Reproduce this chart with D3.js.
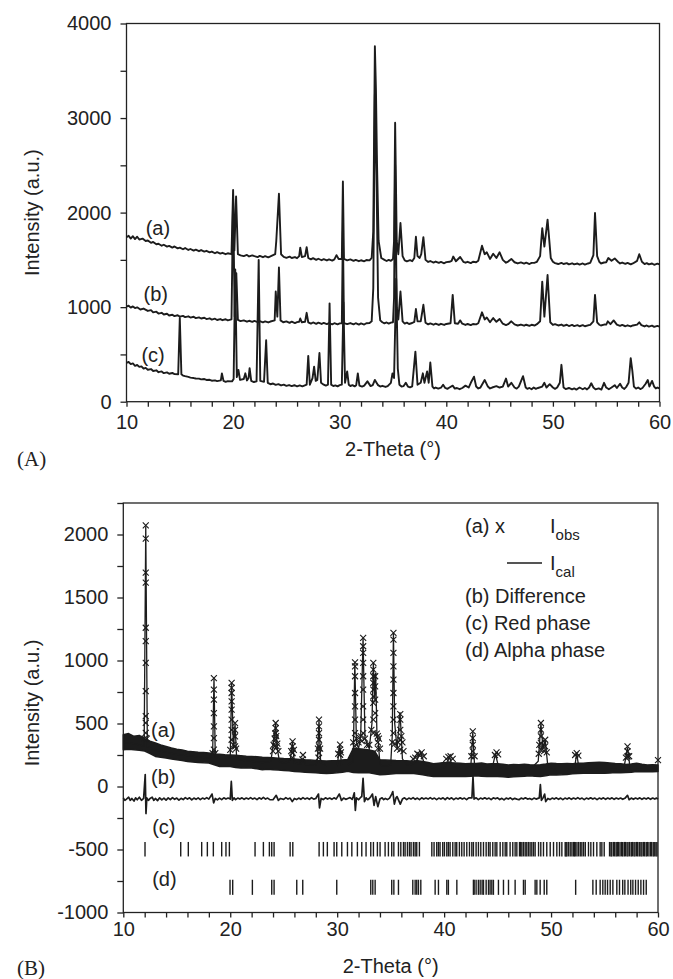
<!DOCTYPE html>
<html><head><meta charset="utf-8">
<script src="https://cdn.jsdelivr.net/npm/d3@7/dist/d3.min.js"></script>
<style>
html,body{margin:0;padding:0;background:#fff;}
svg{display:block;}
.tk text{font-family:"Liberation Sans",Arial,Helvetica,sans-serif;font-size:20px;fill:#222;}
.tk path,.tk line{stroke:#222;stroke-width:1.3;}
.lbl{font-family:"Liberation Sans",Arial,Helvetica,sans-serif;font-size:20px;fill:#222;}
.pan{font-family:"Liberation Serif","Times New Roman",serif;font-size:21px;fill:#222;}
</style></head><body>
<script>
// ---------------- Panel A data: [2-theta, intensity] ----------------
const curveA_a = [[10,1740],[10.2,1755],[10.4,1725],[10.6,1750],[10.8,1720],[11,1745],[11.2,1715],[11.5,1725],[11.8,1700],[12,1705],[12.3,1680],[12.5,1690],[12.8,1665],[13,1670],[13.3,1650],[13.5,1660],[13.8,1640],[14,1648],[14.3,1630],[14.5,1642],[14.8,1622],[15,1630],[15.3,1612],[15.5,1625],[15.8,1605],[16,1615],[16.3,1598],[16.5,1608],[16.8,1592],[17,1604],[17.3,1588],[17.5,1596],[17.8,1580],[18,1588],[18.3,1570],[18.5,1582],[18.8,1566],[19,1575],[19.3,1560],[19.5,1570],[19.85,1560],[20.0,2240],[20.12,1600],[20.28,2170],[20.45,1560],[20.7,1548],[21,1540],[21.3,1552],[21.5,1536],[21.8,1548],[22,1540],[22.3,1530],[22.5,1542],[22.8,1528],[23,1540],[23.3,1526],[23.5,1536],[23.95,1560],[24.05,1700],[24.3,2200],[24.5,1560],[24.75,1532],[25,1522],[25.3,1534],[25.5,1520],[25.8,1530],[26,1518],[26.2,1540],[26.3,1630],[26.45,1530],[26.75,1540],[26.9,1635],[27.05,1520],[27.3,1505],[27.5,1518],[27.8,1500],[28,1512],[28.3,1496],[28.5,1508],[28.8,1494],[29,1505],[29.3,1492],[29.5,1505],[29.7,1550],[29.9,1510],[30.2,1510],[30.3,2330],[30.4,1510],[30.7,1495],[31,1505],[31.3,1490],[31.5,1500],[31.8,1486],[32,1496],[32.3,1485],[32.5,1498],[32.8,1495],[33,1520],[33.15,1800],[33.3,3760],[33.4,3300],[33.5,2520],[33.65,1700],[33.9,1520],[34.2,1500],[34.4,1488],[34.6,1500],[34.8,1490],[35.0,1510],[35.1,1700],[35.2,2950],[35.35,1700],[35.5,1560],[35.7,1890],[35.9,1540],[36.1,1495],[36.3,1485],[36.6,1497],[36.8,1486],[37.0,1520],[37.15,1745],[37.3,1540],[37.5,1520],[37.65,1560],[37.85,1740],[38.05,1500],[38.3,1478],[38.5,1488],[38.8,1472],[39,1482],[39.3,1468],[39.5,1478],[39.8,1464],[40,1476],[40.3,1480],[40.5,1490],[40.65,1535],[40.9,1485],[41.3,1530],[41.6,1480],[41.8,1470],[42,1480],[42.3,1466],[42.5,1480],[42.8,1475],[43,1490],[43.35,1650],[43.6,1560],[43.8,1580],[44.1,1510],[44.4,1565],[44.7,1520],[45.0,1580],[45.3,1500],[45.6,1470],[45.8,1482],[46.1,1510],[46.4,1475],[46.7,1462],[47,1474],[47.3,1460],[47.5,1470],[47.8,1456],[48,1468],[48.3,1470],[48.5,1480],[48.8,1540],[49.0,1835],[49.2,1640],[49.5,1925],[49.8,1520],[50.0,1480],[50.2,1466],[50.5,1456],[50.8,1468],[51,1456],[51.3,1466],[51.5,1452],[51.8,1464],[52,1452],[52.3,1462],[52.5,1450],[52.8,1462],[53,1450],[53.3,1462],[53.5,1468],[53.8,1550],[53.95,1995],[54.15,1540],[54.35,1480],[54.5,1462],[54.8,1472],[55,1475],[55.2,1520],[55.5,1490],[55.8,1515],[56.1,1480],[56.3,1462],[56.5,1472],[56.8,1458],[57,1468],[57.3,1452],[57.5,1462],[57.9,1490],[58.1,1560],[58.35,1480],[58.6,1456],[58.8,1466],[59,1452],[59.3,1462],[59.5,1448],[59.8,1460],[60,1452]];
const curveA_b = [[10,1005],[10.2,1015],[10.4,995],[10.6,1008],[10.8,990],[11,998],[11.3,975],[11.6,985],[12,960],[12.3,968],[12.5,945],[12.8,952],[13,932],[13.3,940],[13.5,922],[13.8,930],[14,912],[14.3,920],[14.5,905],[14.8,914],[15,900],[15.3,908],[15.5,895],[15.8,903],[16,890],[16.3,898],[16.5,884],[16.8,892],[17,880],[17.3,888],[17.5,874],[17.8,882],[18,868],[18.3,878],[18.5,864],[18.8,874],[19,862],[19.3,872],[19.5,860],[19.85,870],[20.0,2150],[20.15,900],[20.3,1360],[20.45,865],[20.7,852],[21,860],[21.3,846],[21.5,856],[21.8,844],[22,854],[22.3,842],[22.5,852],[22.8,840],[23,850],[23.3,838],[23.5,848],[23.9,860],[24.0,1165],[24.15,900],[24.3,1420],[24.45,860],[24.7,840],[25,850],[25.3,834],[25.5,846],[25.8,832],[26,842],[26.2,845],[26.3,880],[26.45,840],[26.75,845],[26.9,940],[27.05,840],[27.3,826],[27.5,838],[27.8,824],[28,836],[28.3,822],[28.5,834],[28.8,820],[29,832],[29.3,818],[29.5,830],[29.8,818],[30.0,828],[30.2,830],[30.3,1800],[30.4,832],[30.7,820],[31,832],[31.3,818],[31.5,830],[31.8,816],[32,828],[32.3,816],[32.5,830],[32.8,832],[33,850],[33.15,1200],[33.3,3250],[33.45,2400],[33.6,1100],[33.8,860],[34.0,840],[34.2,828],[34.4,838],[34.6,826],[34.8,836],[35.0,840],[35.1,1100],[35.2,2500],[35.35,1000],[35.5,870],[35.7,1165],[35.9,850],[36.1,826],[36.3,836],[36.5,822],[36.8,832],[37.0,845],[37.15,980],[37.3,850],[37.6,850],[37.85,1025],[38.05,835],[38.3,818],[38.5,828],[38.8,814],[39,826],[39.3,812],[39.5,824],[39.8,812],[40,822],[40.4,830],[40.6,1130],[40.8,830],[41.1,825],[41.3,860],[41.5,825],[41.8,812],[42,822],[42.3,810],[42.5,822],[42.8,818],[43,830],[43.35,945],[43.6,870],[43.8,890],[44.1,840],[44.4,885],[44.7,845],[45.0,875],[45.3,825],[45.6,810],[45.8,820],[46.1,850],[46.4,818],[46.7,806],[47,816],[47.3,804],[47.5,814],[47.8,802],[48,814],[48.3,806],[48.5,820],[48.8,850],[49.0,1270],[49.2,900],[49.5,1340],[49.75,840],[50.0,812],[50.2,820],[50.5,806],[50.8,816],[51,802],[51.3,814],[51.5,800],[51.8,812],[52,800],[52.3,810],[52.5,798],[52.8,810],[53,798],[53.3,808],[53.5,812],[53.8,850],[53.95,1130],[54.15,840],[54.35,814],[54.5,806],[54.8,816],[55,815],[55.15,850],[55.4,820],[55.7,860],[56,815],[56.3,802],[56.5,812],[56.8,798],[57,808],[57.3,796],[57.5,806],[57.9,815],[58.1,840],[58.3,810],[58.6,796],[58.8,806],[59,794],[59.3,804],[59.5,792],[59.8,802],[60,795]];
const curveA_c = [[10,410],[10.2,420],[10.4,398],[10.6,405],[10.8,380],[11,388],[11.2,368],[11.4,374],[11.6,350],[11.8,358],[12,338],[12.3,345],[12.5,325],[12.8,332],[13,312],[13.3,320],[13.5,302],[13.8,310],[14,296],[14.3,304],[14.5,292],[14.85,290],[15.0,885],[15.15,290],[15.3,276],[15.5,270],[15.8,262],[16,255],[16.3,250],[16.5,245],[16.8,244],[17,236],[17.3,240],[17.5,230],[17.8,232],[18,222],[18.3,226],[18.5,218],[18.85,225],[18.95,300],[19.1,220],[19.3,210],[19.5,218],[19.9,215],[20.05,240],[20.2,1400],[20.35,260],[20.5,335],[20.65,230],[21.0,240],[21.15,300],[21.3,225],[21.45,250],[21.55,355],[21.7,220],[21.95,208],[22.2,215],[22.4,1500],[22.55,220],[22.9,210],[23.1,650],[23.25,200],[23.5,185],[23.75,192],[24,178],[24.25,186],[24.5,172],[24.75,180],[25,168],[25.25,176],[25.5,165],[25.75,174],[26,162],[26.25,172],[26.5,162],[26.9,180],[27.05,485],[27.2,180],[27.45,250],[27.6,370],[27.75,220],[27.9,230],[28.1,515],[28.25,200],[28.5,180],[28.7,170],[28.9,180],[29.05,1040],[29.2,180],[29.4,166],[29.6,172],[29.8,162],[30.0,175],[30.2,180],[30.35,1050],[30.5,200],[30.7,320],[30.85,180],[31.0,166],[31.2,175],[31.4,162],[31.55,175],[31.7,300],[31.85,170],[32.1,160],[32.3,170],[32.6,215],[32.9,165],[33.1,175],[33.3,230],[33.6,175],[33.8,160],[34,168],[34.3,156],[34.5,165],[34.8,200],[34.95,300],[35.1,250],[35.3,1300],[35.45,350],[35.6,180],[35.8,160],[36.0,165],[36.2,200],[36.4,160],[36.6,152],[36.8,162],[37.1,530],[37.3,180],[37.6,200],[37.8,300],[37.95,200],[38.2,320],[38.35,200],[38.5,415],[38.7,160],[38.85,140],[39,150],[39.25,138],[39.5,148],[39.7,180],[39.9,145],[40.1,136],[40.3,150],[40.6,170],[40.8,138],[41,145],[41.25,132],[41.5,145],[41.8,170],[42.1,150],[42.3,200],[42.6,265],[42.8,160],[43.0,140],[43.2,150],[43.6,230],[43.9,160],[44.1,140],[44.3,150],[44.7,165],[45.0,150],[45.3,160],[45.6,245],[45.8,160],[46.1,200],[46.4,150],[46.6,138],[46.8,160],[47.2,270],[47.45,150],[47.6,136],[47.8,145],[48.0,132],[48.2,150],[48.4,136],[48.6,145],[49.0,160],[49.2,200],[49.4,150],[49.7,185],[50.0,150],[50.2,136],[50.4,150],[50.65,200],[50.8,390],[51.0,150],[51.2,134],[51.5,145],[51.8,130],[52,140],[52.2,128],[52.5,150],[52.8,132],[53,145],[53.2,130],[53.4,150],[53.6,195],[53.8,150],[54.0,130],[54.3,140],[54.55,128],[54.8,200],[55.0,150],[55.25,132],[55.5,150],[55.8,175],[56.0,145],[56.3,190],[56.5,150],[56.7,135],[56.9,160],[57.1,200],[57.3,460],[57.45,330],[57.6,160],[57.8,138],[58,150],[58.2,134],[58.4,145],[58.7,190],[58.9,230],[59.05,160],[59.3,220],[59.5,160],[59.65,140],[59.8,150],[60,140]];
const curveLabelsA = ["(a)","(b)","(c)"];
const curveLabelPosA = [[11.8,1760],[11.6,1060],[11.4,420]];

// ---------------- Panel B data ----------------
const calcB = [[10,350],[11,340],[11.95,320],[12.1,2065],[12.25,315],[13,290],[14,270],[15,255],[16,245],[17,235],[18,225],[18.35,240],[18.48,860],[18.6,235],[19,220],[19.5,215],[20.0,230],[20.13,825],[20.3,300],[20.45,495],[20.6,220],[21,210],[22,200],[23,190],[23.8,200],[24.1,380],[24.25,500],[24.4,300],[24.6,200],[25,185],[25.6,200],[25.82,355],[26.0,185],[26.6,180],[26.8,220],[27,175],[28,170],[28.15,200],[28.3,530],[28.45,190],[29,165],[30,165],[30.25,330],[30.4,170],[31,170],[31.5,200],[31.65,985],[31.8,350],[32.0,300],[32.2,400],[32.42,1180],[32.6,380],[33,300],[33.25,500],[33.38,980],[33.5,700],[33.6,900],[33.72,400],[33.85,350],[34.0,170],[34.5,160],[35.0,170],[35.15,400],[35.26,1220],[35.38,500],[35.6,300],[35.88,590],[36.1,220],[36.5,170],[37,175],[37.4,200],[37.8,270],[38.2,170],[39,145],[39.5,140],[40,145],[40.3,200],[40.5,230],[40.8,160],[41.5,140],[42,140],[42.5,160],[42.68,430],[42.85,160],[43.5,140],[44.5,145],[44.8,260],[45.1,150],[46,135],[47,135],[48,135],[48.8,200],[49.05,500],[49.25,300],[49.45,370],[49.7,160],[50.5,135],[51.5,135],[52.2,150],[52.4,260],[52.6,150],[53.5,140],[54.5,135],[55.5,135],[56.8,140],[57.15,310],[57.4,140],[58.5,135],[59.5,135],[60,140]];
// envelope of the dense observed-point cloud along the background
const bandTheta = [10,10.5,11,11.5,12,12.5,13,13.5,14,14.5,15,15.5,16,16.5,17,17.5,18,18.5,19,19.5,20,20.5,21,21.5,22,22.5,23,23.5,24,24.5,25,25.5,26,26.5,27,27.5,28,28.5,29,29.5,30,30.5,31,31.5,32,32.5,33,33.5,34,34.5,35,35.5,36,36.5,37,37.5,38,38.5,39,39.5,40,40.5,41,41.5,42,42.5,43,43.5,44,44.5,45,45.5,46,46.5,47,47.5,48,48.5,49,49.5,50,50.5,51,51.5,52,52.5,53,53.5,54,54.5,55,55.5,56,56.5,57,57.5,58,58.5,59,59.5,60];
const bandHi = [411,420,398,405,378,360,345,330,318,305,295,290,280,276,272,270,265,258,255,252,250,248,245,240,238,236,232,230,228,225,222,220,218,215,212,210,207,205,203,204,205,210,215,300,300,295,290,280,212,210,208,206,205,204,200,205,198,190,180,185,190,188,186,184,180,182,182,186,178,180,180,176,170,174,172,176,172,170,172,178,185,182,180,182,180,184,185,188,190,192,190,186,182,180,175,178,185,176,170,172,170,168,185];
const bandLo = [292,296,292,288,281,262,239,232,226,218,212,206,199,195,191,188,186,172,159,160,159,150,146,148,146,140,133,136,133,130,127,124,120,117,114,112,109,106,103,106,109,114,120,112,110,112,110,102,93,96,100,104,106,104,106,100,93,86,80,82,80,80,80,82,80,82,85,82,80,80,80,78,74,77,80,82,85,82,80,86,93,92,93,96,101,104,106,106,106,106,106,108,111,110,111,114,119,118,119,118,119];
// observed points (x markers) on the reflections
const obsB = [
 [12.1,2072],[12.1,1967],[12.1,1697],[12.1,1618],[12.1,1260],[12.1,1154],[12.1,982],[12.1,757],[12.1,558],[12.1,505],[12.1,425],[12.0,380],[12.2,380],
 [18.47,861],[18.47,769],[18.47,689],[18.47,583],[18.47,477],[18.47,384],[18.47,292],[18.35,265],[18.6,265],
 [20.13,822],[20.13,782],[20.13,742],[20.13,676],[20.13,610],[20.13,530],[20.13,450],[20.13,371],[20.45,503],[20.45,450],[20.45,397],[20.45,318],[20.3,330],[20.55,300],[20.0,290],
 [24.25,504],[24.25,464],[24.25,424],[24.25,371],[24.15,318],[24.35,318],[24.05,330],[24.15,380],[24.2,420],[24.3,400],[24.4,340],[24.0,280],[24.5,280],
 [25.83,358],[25.83,318],[25.83,265],[25.7,280],[25.95,290],[25.8,230],[26.8,250],[26.75,215],
 [28.3,530],[28.3,477],[28.3,424],[28.3,371],[28.3,318],[28.3,265],[28.2,300],[28.4,300],[28.25,230],
 [30.27,332],[30.27,292],[30.27,252],[30.1,260],[30.35,270],
 [31.67,986],[31.67,954],[31.67,875],[31.67,742],[31.67,636],[31.67,530],[31.67,424],[31.67,318],[31.5,350],[31.8,380],[32.0,350],[32.2,400],
 [32.43,1180],[32.43,1113],[32.43,1060],[32.43,981],[32.43,875],[32.43,769],[32.43,636],[32.43,530],[32.43,424],[32.3,360],[32.6,380],[32.8,330],[33.0,330],[33.2,450],
 [33.38,981],[33.38,928],[33.38,875],[33.38,822],[33.38,769],[33.38,716],[33.38,663],[33.38,530],[33.38,424],[33.55,875],[33.55,795],[33.55,689],[33.55,583],
 [33.8,400],[33.8,350],[33.8,300],[33.7,420],[33.9,380],[34.0,300],
 [35.26,1219],[35.26,1166],[35.26,1060],[35.26,954],[35.26,848],[35.26,742],[35.26,636],[35.26,530],[35.26,424],[35.15,350],[35.4,340],
 [35.9,575],[35.9,530],[35.9,450],[35.9,371],[35.9,292],[36.0,400],[35.7,350],[36.1,350],[36.2,280],[35.6,300],
 [37.1,220],[37.3,230],[37.5,260],[37.7,250],[37.9,270],[38.1,240],
 [40.2,220],[40.4,235],[40.6,240],[40.8,220],
 [42.68,437],[42.68,384],[42.68,331],[42.68,278],[42.55,240],[42.85,240],
 [44.75,250],[44.9,270],[45.05,255],
 [49.05,504],[49.05,451],[49.05,398],[49.05,345],[49.05,292],[49.45,371],[49.45,318],[48.85,260],[49.2,320],[49.35,280],[49.6,270],[48.9,330],
 [52.25,250],[52.4,265],[52.55,245],
 [57.15,318],[57.15,278],[57.15,238],[57.0,230],[57.3,240],[60,210]];
const diffB = [[10,-90],[10.15,-110],[10.3,-100],[10.5,-85],[10.65,-110],[10.8,-95],[11,-115],[11.15,-90],[11.3,-105],[11.5,-85],[11.7,-110],[11.9,-95],[12.05,95],[12.12,-215],[12.2,-90],[12.35,-110],[12.5,-95],[12.7,-85],[12.85,-110],[13,-95],[13.2,-112],[13.4,-90],[13.6,-106],[13.8,-92],[14,-108],[14.2,-90],[14.4,-104],[14.6,-88],[14.8,-102],[15,-92],[15.2,-108],[15.4,-94],[15.6,-104],[15.8,-88],[16,-100],[16.2,-90],[16.4,-106],[16.6,-92],[16.8,-102],[17,-90],[17.2,-104],[17.4,-92],[17.6,-100],[17.8,-88],[18,-100],[18.3,-60],[18.45,-130],[18.6,-95],[18.8,-106],[19,-92],[19.2,-104],[19.4,-90],[19.6,-100],[19.8,-92],[20.0,-100],[20.1,40],[20.2,-110],[20.35,-90],[20.5,-104],[20.7,-92],[20.9,-100],[21.1,-90],[21.3,-102],[21.5,-92],[21.7,-100],[21.9,-88],[22.1,-100],[22.3,-92],[22.5,-104],[22.7,-90],[22.9,-100],[23.1,-86],[23.3,-100],[23.5,-92],[23.7,-104],[24,-105],[24.3,-70],[24.5,-110],[24.7,-95],[25,-102],[25.2,-88],[25.4,-100],[25.6,-92],[25.8,-120],[26,-95],[26.2,-104],[26.4,-92],[26.6,-102],[26.8,-88],[27,-100],[27.2,-92],[27.4,-102],[27.6,-88],[27.8,-100],[28,-95],[28.25,-60],[28.35,-170],[28.5,-95],[28.7,-104],[28.9,-90],[29.1,-100],[29.3,-92],[29.5,-102],[29.7,-90],[29.9,-100],[30.2,-60],[30.4,-110],[30.6,-92],[30.8,-102],[31,-95],[31.2,-88],[31.4,-102],[31.5,-80],[31.6,-50],[31.7,-190],[31.8,-90],[32.0,-105],[32.2,-85],[32.3,-80],[32.42,65],[32.55,-120],[32.7,-90],[32.85,-105],[33,-95],[33.15,-80],[33.3,-60],[33.45,-150],[33.6,-80],[33.8,-160],[34,-100],[34.2,-90],[34.35,-104],[34.5,-95],[34.7,-104],[34.9,-92],[35.1,-60],[35.2,-40],[35.35,-140],[35.5,-90],[35.6,-80],[35.75,-110],[35.9,-140],[36.1,-100],[36.3,-90],[36.5,-104],[36.7,-92],[36.9,-100],[37.1,-88],[37.3,-102],[37.5,-92],[37.7,-104],[37.9,-90],[38.1,-100],[38.3,-92],[38.5,-100],[38.7,-88],[38.9,-100],[39.1,-92],[39.3,-104],[39.5,-92],[39.7,-100],[39.9,-90],[40.1,-104],[40.3,-88],[40.5,-100],[40.7,-90],[40.9,-104],[41.1,-92],[41.3,-100],[41.5,-90],[41.7,-100],[41.9,-92],[42.1,-104],[42.3,-90],[42.6,-90],[42.7,80],[42.8,-100],[43.0,-90],[43.2,-104],[43.4,-92],[43.6,-100],[43.8,-90],[44,-100],[44.2,-92],[44.4,-104],[44.6,-90],[44.8,-98],[45,-90],[45.2,-104],[45.4,-94],[45.6,-106],[45.8,-92],[46,-100],[46.2,-90],[46.4,-104],[46.6,-94],[46.8,-100],[47,-105],[47.2,-92],[47.4,-100],[47.6,-90],[47.8,-100],[48,-95],[48.2,-104],[48.4,-92],[48.6,-100],[48.9,-90],[49.0,15],[49.1,-110],[49.25,-90],[49.4,-60],[49.5,-120],[49.7,-95],[49.9,-104],[50.1,-92],[50.3,-100],[50.5,-90],[50.7,-102],[50.9,-92],[51.1,-104],[51.3,-92],[51.5,-100],[51.7,-90],[51.9,-102],[52.1,-92],[52.3,-100],[52.5,-88],[52.7,-100],[52.9,-92],[53.1,-104],[53.3,-92],[53.5,-100],[53.7,-90],[53.9,-100],[54.1,-92],[54.3,-104],[54.5,-92],[54.7,-100],[54.9,-90],[55.1,-102],[55.3,-92],[55.5,-100],[55.7,-90],[55.9,-102],[56.1,-92],[56.3,-100],[56.5,-92],[56.7,-102],[56.9,-94],[57.15,-70],[57.3,-105],[57.5,-92],[57.7,-102],[57.9,-92],[58.1,-100],[58.3,-90],[58.5,-102],[58.7,-92],[58.9,-100],[59.1,-90],[59.3,-102],[59.5,-92],[59.7,-100],[59.85,-92],[60,-100]];
const redPhase = [12.03,15.37,16.08,17.33,17.86,18.42,19.2,19.6,19.92,22.32,23.1,23.66,23.88,24.1,25.6,25.85,28.31,28.71,29.08,29.71,29.96,30.43,30.96,31.37,31.89,32.3,32.7,33.14,33.39,33.76,34.01,34.48,34.79,35.1,35.3,35.73,35.95,36.2,36.35,36.57,36.76,36.91,37.13,37.29,37.44,37.69,38.85,39.06,39.31,39.47,39.62,39.87,40.03,40.25,40.4,40.56,40.81,41.03,41.18,41.43,41.65,41.87,42.12,42.37,42.59,42.74,42.99,43.21,43.43,43.68,43.93,44.15,44.3,44.55,44.77,44.93,45.24,45.49,45.71,45.86,46.17,46.42,46.64,46.8,47.05,47.15,47.27,47.42,47.58,47.73,47.89,48.04,48.2,48.36,48.51,48.83,49.04,49.29,49.6,49.92,50.23,50.54,50.79,51.01,51.32,51.4,51.48,51.63,51.79,51.95,52.1,52.18,52.26,52.42,52.57,52.73,52.88,53.04,53.2,53.5,53.72,53.97,54.28,54.59,54.75,54.97,55.47,55.6,55.68,55.84,55.95,56.09,56.2,56.31,56.45,56.6,56.7,56.85,56.95,57.1,57.2,57.35,57.5,57.6,57.75,57.85,58.0,58.1,58.25,58.4,58.5,58.65,58.75,58.9,59.0,59.15,59.3,59.4,59.55,59.65,59.8,59.9];
const alphaPhase = [19.98,20.23,22.07,23.88,24.1,26.22,26.78,29.96,33.14,33.33,33.55,35.1,35.3,35.73,37.07,37.29,37.44,37.6,37.82,39.16,39.47,40.25,40.4,41.19,42.74,42.81,42.99,43.2,43.37,43.55,43.68,43.93,44.15,44.3,44.46,44.61,45.08,45.55,46.02,46.64,47.42,47.58,48.51,48.67,48.98,49.36,49.6,52.3,53.91,54.22,54.59,54.84,55.06,55.28,55.53,55.78,56.15,56.4,56.7,56.9,57.2,57.45,57.65,57.9,58.15,58.4,58.65,58.9];
const redRange = [-440,-555];
const alphaRange = [-740,-860];
const curveLabelsB = ["(a)","(b)","(c)","(d)"];
const curveLabelPosB = [[12.6,395],[12.6,20],[12.7,-380],[12.7,-790]];
const legendB = ["(b) Difference","(c) Red phase","(d) Alpha phase"];
const xTicks = d3.range(10, 61, 2);
const yTicksA = d3.range(0, 4001, 500);
const yTicksB = d3.range(-1000, 2251, 250);

// ---------------- drawing ----------------
const svg = d3.select("body").append("svg").attr("width",673).attr("height",979);
const ink = "#1c1c1c";

function frame(x, y, xPad, yFmtStep, yTicks){
  const g = svg.append("g");
  const [x0,x1] = x.range(), [y0,y1] = y.range();
  g.append("g").attr("class","tk").attr("transform",`translate(0,${y0})`)
    .call(d3.axisBottom(x).tickValues(xTicks).tickSize(5).tickPadding(xPad).tickFormat(d => d%10===0 ? d : ""))
    .call(a => a.select(".domain").remove());
  g.append("g").attr("class","tk").attr("transform",`translate(${x0},0)`)
    .call(d3.axisLeft(y).tickValues(yTicks).tickSize(6).tickPadding(9).tickFormat(d => d%yFmtStep===0 ? d : ""))
    .call(a => a.select(".domain").remove());
  g.append("rect").attr("x",x0).attr("y",y1).attr("width",x1-x0).attr("height",y0-y1)
    .attr("fill","none").attr("stroke","#222").attr("stroke-width",1.3);
}

// Panel A
const xA = d3.scaleLinear().domain([10,60]).range([126.5,659.5]);
const yA = d3.scaleLinear().domain([0,4000]).range([401.7,23.5]);
frame(xA, yA, 8, 1000, yTicksA);
const lineA = d3.line().x(d=>xA(d[0])).y(d=>yA(d[1]));
[curveA_a, curveA_b, curveA_c].forEach(c => {
  svg.append("path").attr("d", lineA(c)).attr("fill","none").attr("stroke",ink)
    .attr("stroke-width",1.9).attr("stroke-linejoin","round");
});
curveLabelsA.forEach((t,i) => svg.append("text").attr("class","lbl")
  .attr("x", xA(curveLabelPosA[i][0])).attr("y", yA(curveLabelPosA[i][1])).text(t));
svg.append("text").attr("class","lbl").attr("text-anchor","middle")
  .attr("x",(xA(10)+xA(60))/2).attr("y",456).text("2-Theta (°)");
svg.append("text").attr("class","lbl").attr("text-anchor","middle")
  .attr("transform",`translate(39,${(yA(0)+yA(4000))/2}) rotate(-90)`).text("Intensity (a.u.)");
svg.append("text").attr("class","pan").attr("x",17).attr("y",466).text("(A)");

// Panel B
const xB = d3.scaleLinear().domain([10,60]).range([123.3,658]);
const yB = d3.scaleLinear().domain([-1000,2250]).range([912.5,503]);
frame(xB, yB, 4, 500, yTicksB);
const band = bandTheta.map((t,i)=>[t,bandLo[i],bandHi[i]]);
svg.append("path").attr("d", d3.area().x(d=>xB(d[0])).y0(d=>yB(d[1])).y1(d=>yB(d[2]))(band))
  .attr("fill",ink).attr("stroke",ink).attr("stroke-width",1.5).attr("stroke-linejoin","round");
const lineB = d3.line().x(d=>xB(d[0])).y(d=>yB(d[1]));
svg.append("path").attr("d", lineB(calcB)).attr("fill","none").attr("stroke",ink).attr("stroke-width",1.3);
svg.append("g").selectAll("path").data(obsB).join("path")
  .attr("transform", d=>`translate(${xB(d[0])},${yB(d[1])})`)
  .attr("d","M-3,-3L3,3M-3,3L3,-3").attr("stroke",ink).attr("stroke-width",1.1).attr("fill","none");
svg.append("path").attr("d", lineB(diffB)).attr("fill","none").attr("stroke",ink)
  .attr("stroke-width",1.7).attr("stroke-linejoin","round");
svg.append("g").selectAll("line").data(redPhase).join("line")
  .attr("x1",d=>xB(d)).attr("x2",d=>xB(d)).attr("y1",yB(redRange[0])).attr("y2",yB(redRange[1]))
  .attr("stroke",ink).attr("stroke-width",1.4);
svg.append("g").selectAll("line").data(alphaPhase).join("line")
  .attr("x1",d=>xB(d)).attr("x2",d=>xB(d)).attr("y1",yB(alphaRange[0])).attr("y2",yB(alphaRange[1]))
  .attr("stroke",ink).attr("stroke-width",1.4);
curveLabelsB.forEach((t,i) => svg.append("text").attr("class","lbl")
  .attr("x", xB(curveLabelPosB[i][0])).attr("y", yB(curveLabelPosB[i][1])).text(t));
// legend
const lg = svg.append("g");
lg.append("text").attr("class","lbl").attr("x",465).attr("y",533).text("(a) x");
const t1 = lg.append("text").attr("class","lbl").attr("x",550).attr("y",533);
t1.append("tspan").text("I");
t1.append("tspan").attr("dy",7).attr("font-size","15px").text("obs");
lg.append("line").attr("x1",507).attr("x2",542).attr("y1",563).attr("y2",563).attr("stroke",ink).attr("stroke-width",1.3);
const t2 = lg.append("text").attr("class","lbl").attr("x",550).attr("y",570);
t2.append("tspan").text("I");
t2.append("tspan").attr("dy",7).attr("font-size","15px").text("cal");
legendB.forEach((t,i)=> lg.append("text").attr("class","lbl").attr("x",465).attr("y",603+27*i).text(t));
svg.append("text").attr("class","lbl").attr("text-anchor","middle")
  .attr("x",(xB(10)+xB(60))/2).attr("y",973).text("2-Theta (°)");
svg.append("text").attr("class","lbl").attr("text-anchor","middle")
  .attr("transform",`translate(39,703) rotate(-90)`).text("Intensity (a.u.)");
svg.append("text").attr("class","pan").attr("x",17).attr("y",975).text("(B)");
</script>
</body></html>
